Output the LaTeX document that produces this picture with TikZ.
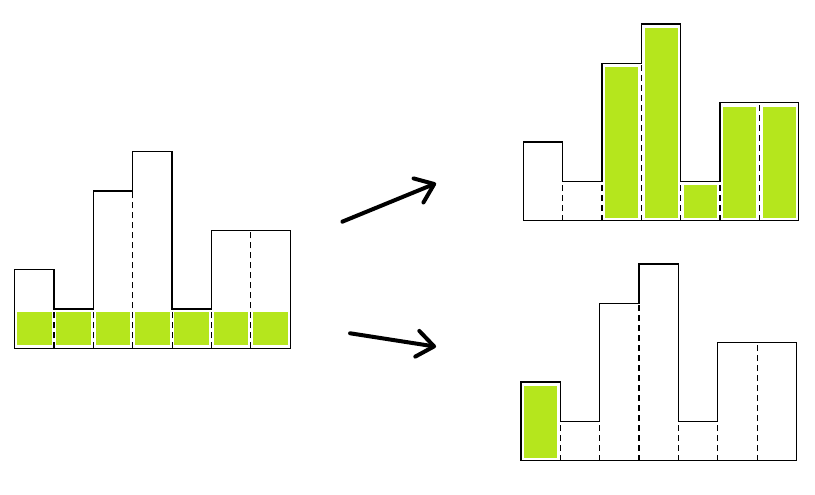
\documentclass[tikz,border=0pt]{standalone}
\usetikzlibrary{arrows.meta}
\definecolor{lime}{HTML}{B5E61D}
\tikzset{
  outline/.style={line width=1.3pt,line join=miter},
  divider/.style={line width=1.2pt,dash pattern=on 6pt off 4pt},
  cell/.style={fill=lime},
  move/.style={line width=4pt,line cap=round,line join=round,
    -{Straight Barb[length=17pt,width=26pt,line cap=round,line join=round]}}
}

\begin{document}
\begin{tikzpicture}[scale=1.383]
  \useasboundingbox (0,0) rectangle (20.711,12.554);

  % input histogram, bottom row of cells coloured
  \begin{scope}[shift={(0.374,3.703)}]
    \foreach \x in {0,...,6}
      \fill[cell] (\x+0.06,0.08) rectangle (\x+0.94,0.92);
    \draw[divider] (1,0)--(1,1);
    \draw[divider] (2,0)--(2,1);
    \draw[divider] (3,0)--(3,4);
    \draw[divider] (4,0)--(4,1);
    \draw[divider] (5,0)--(5,1);
    \draw[divider] (6,0)--(6,3);
    \draw[outline] (0,0)--(0,2)--(1,2)--(1,1)--(2,1)--(2,4)--(3,4)--(3,5)
      --(4,5)--(4,1)--(5,1)--(5,3)--(7,3)--(7,0)--cycle;
  \end{scope}

  % upper result, five columns coloured
  \begin{scope}[shift={(13.299,6.945)}]
    \fill[cell] (2.08,0.08) rectangle (2.92,3.9);
    \fill[cell] (3.08,0.08) rectangle (3.92,4.9);
    \fill[cell] (4.08,0.08) rectangle (4.92,0.9);
    \fill[cell] (5.08,0.08) rectangle (5.92,2.9);
    \fill[cell] (6.08,0.08) rectangle (6.92,2.9);
    \draw[divider] (1,0)--(1,1);
    \draw[divider] (2,0)--(2,1);
    \draw[divider] (3,0)--(3,4);
    \draw[divider] (4,0)--(4,1);
    \draw[divider] (5,0)--(5,1);
    \draw[divider] (6,0)--(6,3);
    \draw[outline] (0,0)--(0,2)--(1,2)--(1,1)--(2,1)--(2,4)--(3,4)--(3,5)
      --(4,5)--(4,1)--(5,1)--(5,3)--(7,3)--(7,0)--cycle;
  \end{scope}

  % lower result, first column coloured
  \begin{scope}[shift={(13.24,0.846)}]
    \fill[cell] (0.08,0.08) rectangle (0.92,1.9);
    \draw[divider] (1,0)--(1,1);
    \draw[divider] (2,0)--(2,1);
    \draw[divider] (3,0)--(3,4);
    \draw[divider] (4,0)--(4,1);
    \draw[divider] (5,0)--(5,1);
    \draw[divider] (6,0)--(6,3);
    \draw[outline] (0,0)--(0,2)--(1,2)--(1,1)--(2,1)--(2,4)--(3,4)--(3,5)
      --(4,5)--(4,1)--(5,1)--(5,3)--(7,3)--(7,0)--cycle;
  \end{scope}

  \coordinate (upfrom) at (8.699,6.920);
  \coordinate (upto) at (11.08,7.896);
  \coordinate (downfrom) at (8.895,4.084);
  \coordinate (downto) at (11.08,3.743);
  \draw[move] (upfrom)--(upto);
  \draw[move] (downfrom)--(downto);
\end{tikzpicture}
\end{document}
